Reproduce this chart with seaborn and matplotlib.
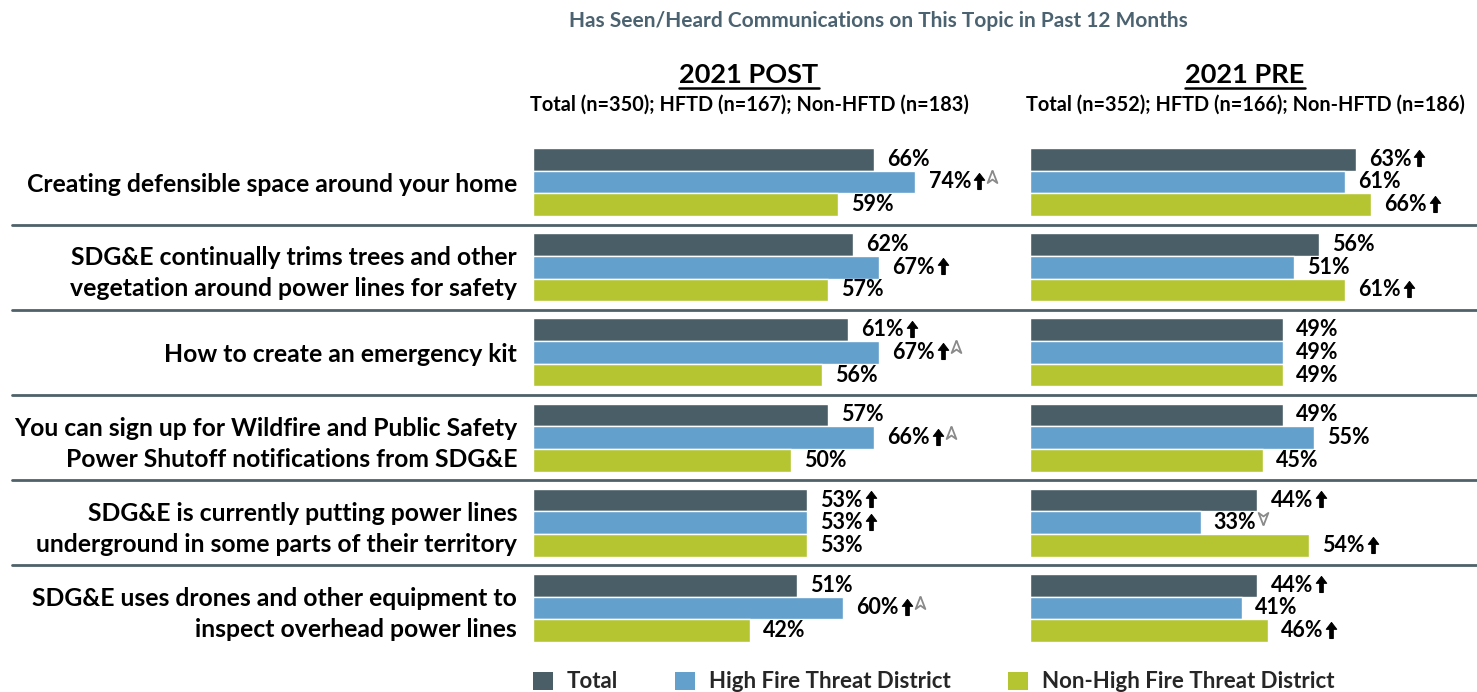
import pandas as pd
import numpy as np
import matplotlib
matplotlib.use('Agg')
import matplotlib.pyplot as plt
import matplotlib.transforms as mtransforms
from matplotlib.path import Path
from matplotlib.patches import Patch
from matplotlib.lines import Line2D
import seaborn as sns

# data
topics = ['Creating defensible space around your home',
          'SDG&E continually trims trees and other\nvegetation around power lines for safety',
          'How to create an emergency kit',
          'You can sign up for Wildfire and Public Safety\nPower Shutoff notifications from SDG&E',
          'SDG&E is currently putting power lines\nunderground in some parts of their territory',
          'SDG&E uses drones and other equipment to\ninspect overhead power lines']
groups = ['Total', 'High Fire Threat District', 'Non-High Fire Threat District']

post_total = [66, 62, 61, 57, 53, 51]
post_hftd = [74, 67, 67, 66, 53, 60]
post_non = [59, 57, 56, 50, 53, 42]
pre_total = [63, 56, 49, 49, 44, 44]
pre_hftd = [61, 51, 49, 55, 33, 41]
pre_non = [66, 61, 49, 45, 54, 46]

# significance marks: black up arrow, grey marker (1 = up, -1 = down)
post_up = [[0, 0, 1, 0, 1, 0], [1, 1, 1, 1, 1, 1], [0, 0, 0, 0, 0, 0]]
post_grey = [[0, 0, 0, 0, 0, 0], [1, 0, 1, 1, 0, 1], [0, 0, 0, 0, 0, 0]]
pre_up = [[1, 0, 0, 0, 1, 1], [0, 0, 0, 0, 0, 0], [1, 1, 0, 0, 1, 1]]
pre_grey = [[0, 0, 0, 0, 0, 0], [0, 0, 0, 0, -1, 0], [0, 0, 0, 0, 0, 0]]

panel_titles = ['2021 POST', '2021 PRE']
panel_subs = ['Total (n=350); HFTD (n=167); Non-HFTD (n=183)',
              'Total (n=352); HFTD (n=166); Non-HFTD (n=186)']
title = 'Has Seen/Heard Communications on This Topic in Past 12 Months'

colors = ['#4a5e67', '#63a0cb', '#b5c532']
sep_color = '#4f6169'
title_color = '#4b6270'

sns.set_style('white')
plt.rcParams['font.family'] = ['Lato', 'DejaVu Sans']
plt.rcParams['font.weight'] = 'bold'

W, H = 1477, 692
fig = plt.figure(figsize=(W / 100, H / 100), dpi=100)

ppu = 465 / 90  # pixels per percent
ax_top, ax_bot = 139.4, 650.6
ax1 = fig.add_axes([533 / W, (H - ax_bot) / H, 465 / W, (ax_bot - ax_top) / H])
ax2 = fig.add_axes([1030 / W, (H - ax_bot) / H, 447 / W, (ax_bot - ax_top) / H])


def long_df(a, b, c):
    rows = []
    for i, t in enumerate(topics):
        for g, vals in zip(groups, [a, b, c]):
            rows.append({'topic': t, 'group': g, 'value': vals[i]})
    return pd.DataFrame(rows)


panels = [(ax1, long_df(post_total, post_hftd, post_non), post_up, post_grey, 90),
          (ax2, long_df(pre_total, pre_hftd, pre_non), pre_up, pre_grey, 447 / ppu)]

marks = []
for ax, df, ups, greys, xmax in panels:
    sns.barplot(data=df, y='topic', x='value', hue='group', hue_order=groups,
                palette=colors, orient='h', saturation=1, width=0.8,
                legend=False, ax=ax)
    ax.set_xlim(0, xmax)
    ax.set_ylim(len(topics) - 0.5, -0.5)
    ax.set_xlabel('')
    ax.set_ylabel('')
    ax.set_xticks([])
    sns.despine(ax=ax, left=True, bottom=True)
    ax.tick_params(axis='y', length=0, pad=11.5)
    for gi, cont in enumerate(ax.containers):
        vals = df[df.group == groups[gi]]['value'].tolist()
        labels = [f'{v}%' for v in vals]
        txts = ax.bar_label(cont, labels=labels, padding=9.5, fontsize=15.5,
                            fontweight='bold', color='black')
        for ti, t in enumerate(txts):
            if ups[gi][ti] or greys[gi][ti]:
                marks.append((ax, t, ups[gi][ti], greys[gi][ti]))

for lab in ax1.get_yticklabels():
    lab.set_fontsize(17.8)
    lab.set_fontweight('bold')
    lab.set_linespacing(1.42)
    lab.set_color('black')
ax2.set_yticks([])

# separators between topics, across the whole width
trans = mtransforms.blended_transform_factory(fig.transFigure, ax1.transData)
for i in range(len(topics) - 1):
    fig.add_artist(Line2D([12 / W, 1.0], [i + 0.5, i + 0.5], transform=trans,
                          color=sep_color, lw=2))

fig.text(878 / W, (H - 21) / H, title, ha='center', va='center', fontsize=15,
         fontweight='bold', color=title_color)

heads = []
for cx, t, s in zip([749, 1245], panel_titles, panel_subs):
    h = fig.text(cx / W, (H - 75) / H, t, ha='center', va='center', fontsize=19.5,
                 fontweight='bold', color='black')
    heads.append(h)
    fig.text(cx / W, (H - 105) / H, s, ha='center', va='center', fontsize=14.3,
             fontweight='bold', color='black')

handles = [Patch(facecolor=c, edgecolor='none') for c in colors]
fig.legend(handles, groups, loc='center left', bbox_to_anchor=(533 / W, (H - 682) / H),
           ncol=3, frameon=False, fontsize=16, handlelength=0.9, handleheight=0.9,
           handletextpad=0.6, columnspacing=2.6, borderpad=0, borderaxespad=0)

fig.canvas.draw()
renderer = fig.canvas.get_renderer()

# underline the panel headers
for h in heads:
    bb = h.get_window_extent(renderer)
    fig.add_artist(Line2D([bb.x0 / W, bb.x1 / W], [(bb.y0 - 1) / H, (bb.y0 - 1) / H],
                          transform=fig.transFigure, color='black', lw=1.8))

# black arrows and grey arrowheads after some labels
up_arrow = Path([(0, 1), (0.65, 0.15), (0.22, 0.15), (0.22, -1), (-0.22, -1), (-0.22, 0.15),
                 (-0.65, 0.15), (0, 1)])
grey_up = Path([(0, 1), (0.7, -0.8), (0, -0.3), (-0.7, -0.8), (0, 1)])
grey_down = Path([(0, -1), (0.7, 0.8), (0, 0.3), (-0.7, 0.8), (0, -1)])
for ax, t, up, grey in marks:
    bb = t.get_window_extent(renderer)
    inv = ax.transData.inverted()
    cy = (bb.y0 + bb.y1) / 2 + 1
    px = bb.x1 + 2
    if up:
        x, y = inv.transform((px + 6, cy))
        ax.plot([x], [y], marker=up_arrow, markersize=11.5, color='black',
                markeredgewidth=0.8, clip_on=False, scalex=False, scaley=False)
        px += 14
    if grey:
        x, y = inv.transform((px + 5, cy + 4))
        ax.plot([x], [y], marker=grey_up if grey > 0 else grey_down, markersize=10,
                markerfacecolor='white', markeredgecolor='#8a8a8a', markeredgewidth=1.3,
                clip_on=False, scalex=False, scaley=False)

fig.savefig('out.png', dpi=100)
